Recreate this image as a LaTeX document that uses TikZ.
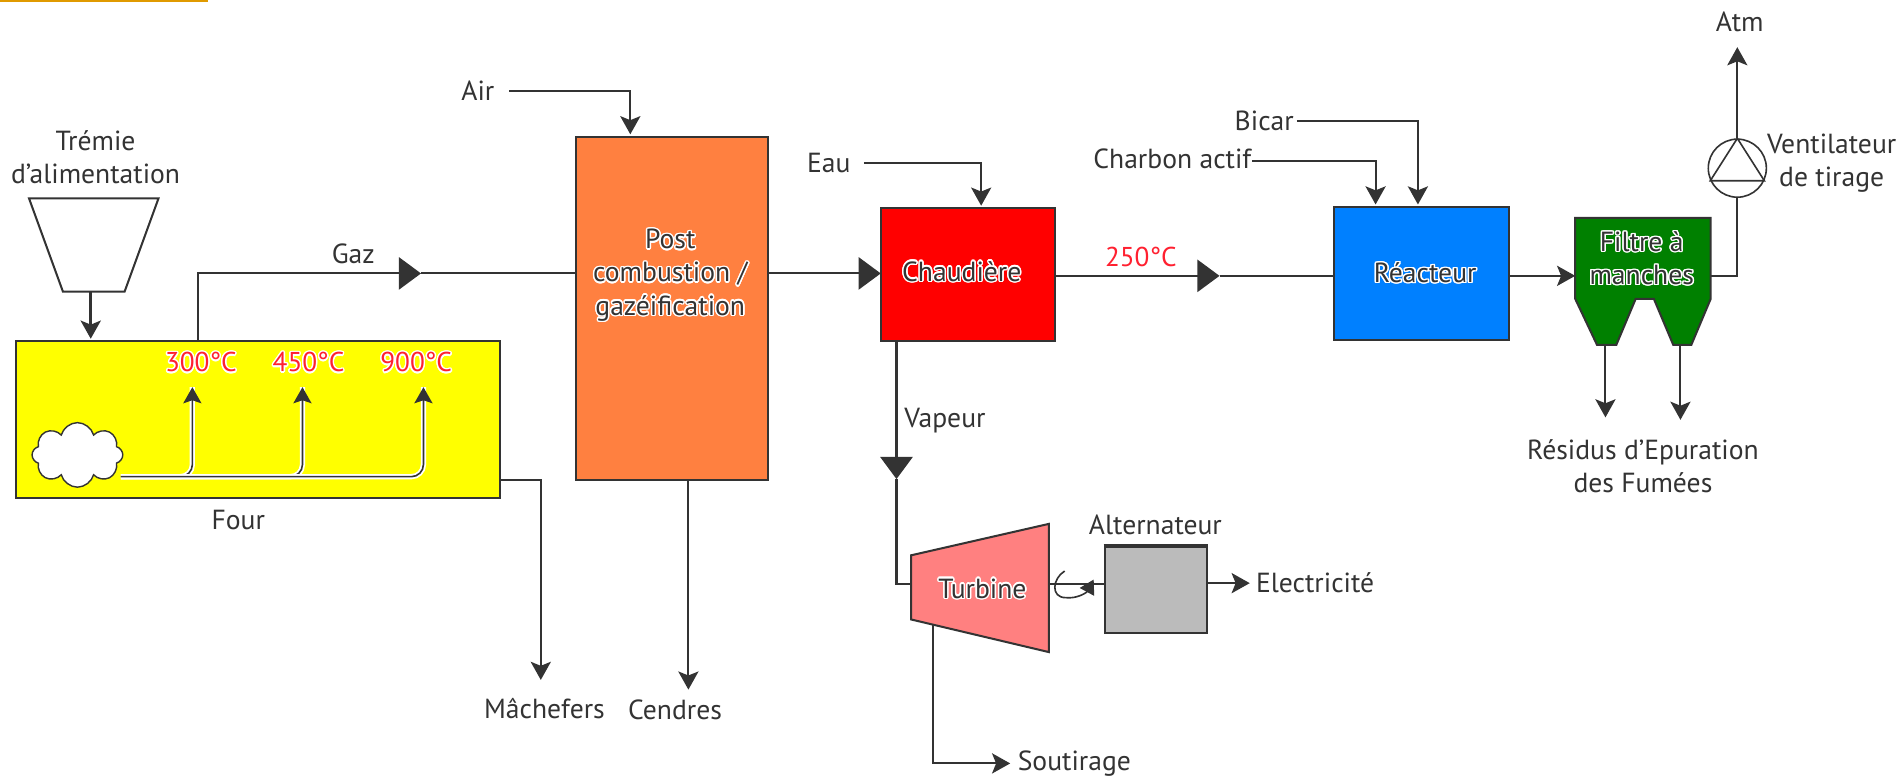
\documentclass[tikz,border=0pt]{standalone}
\usepackage{xcolor}
\usepackage{fontspec}
\usepackage{contour}
\setmainfont{PT Sans}
\usetikzlibrary{arrows.meta, positioning, calc, shapes.symbols}
\definecolor{cvline}{HTML}{333333}
\definecolor{cvfour}{HTML}{FFFF00}
\definecolor{cvpost}{HTML}{FF8040}
\definecolor{cvchaud}{HTML}{FF0000}
\definecolor{cvreac}{HTML}{0080FF}
\definecolor{cvfiltre}{HTML}{008000}
\definecolor{cvturb}{HTML}{FF8080}
\definecolor{cvalt}{HTML}{BBBBBB}
\definecolor{cvtemp}{HTML}{FF2030}
\definecolor{cvbar}{HTML}{E09A00}
\contourlength{0.7pt}
\newcommand{\halo}[1]{\contour{white}{#1}}

\begin{document}
\begin{tikzpicture}[x=0.6pt, y=-0.6pt,
    unit/.style={rectangle, draw=cvline, line width=1pt, fill=#1, inner sep=0pt},
    lbl/.style={font=\fontsize{13.7}{16.4}\selectfont, text=cvline, align=center, inner sep=1pt},
    temp/.style={font=\fontsize{13.5}{14}\selectfont, text=cvtemp, inner sep=1pt},
    conn/.style={line width=1pt, color=cvline},
    arrow/.style={-{Stealth[length=9pt, width=10pt, inset=2pt]}, line width=1pt, color=cvline},
    bigarrow/.style={-{Triangle[length=11pt, width=16pt]}, line width=1pt, color=cvline},
    flame/.style={-{Stealth[length=8pt, width=9pt, inset=1.5pt]}, line width=0.8pt, color=cvline,
                  rounded corners=6pt, preaction={draw=white, line width=2.6pt, -}}
]
\useasboundingbox (0,0) rectangle (1568,641);
\fill[cvbar] (0,0) rectangle (172,2);

% process units
\node[unit=cvfour, minimum width=240pt, minimum height=78pt] (four) at (213,347) {};
\node[unit=cvpost, minimum width=95.4pt, minimum height=170.4pt] (post) at (555.5,255) {};
\node[unit=cvchaud, minimum width=86.4pt, minimum height=66pt] (chaud) at (800,227) {};
\node[unit=cvreac, minimum width=86.4pt, minimum height=66pt] (reac) at (1175,226) {};
\node[unit=cvalt, minimum width=51pt, minimum height=42.6pt] (alt) at (955.5,487.5) {};
\draw[cvline, line width=1.6pt] (alt.north west) -- (alt.north east);

% hopper, turbine and filter outlines
\draw[conn] (24,164) -- (131,164) -- (103,241) -- (52,241) -- cycle;
\draw[conn, fill=cvturb] (753,459) -- (867,433) -- (867,539) -- (753,512) -- cycle;
\draw[conn, fill=cvfiltre] (1302,180) -- (1414,180) -- (1414,247) -- (1398,285) -- (1383,285)
    -- (1367,247) -- (1352,247) -- (1336,285) -- (1320,285) -- (1302,247) -- cycle;
\node[lbl] (posttxt) at (554,228) {\halo{Post}\\\halo{combustion /}\\\halo{gazéification}};
\node[lbl] (chaudtxt) at (795,225) {\halo{Chaudière}};
\node[lbl] (reactxt) at (1178,226) {\halo{Réacteur}};
\node[lbl] (turb) at (812,487) {\halo{Turbine}};
\node[lbl] (filtre) at (1357,214) {\halo{Filtre à}\\\halo{manches}};
\node[cloud, cloud puffs=8, draw=cvline, line width=0.7pt, fill=white, minimum width=45pt, minimum height=32pt, inner sep=0pt] (feu) at (64,376) {};
\node[circle, draw=cvline, line width=0.8pt, minimum size=28.8pt, inner sep=0pt] (fan) at (1436,139) {};
\draw[conn, line width=0.8pt] (fan.north) -- (fan.-25) -- (fan.205) -- cycle;

% labels
\node[lbl] (tremie) at (79,130) {Trémie\\d'alimentation};
\node[lbl] (gaz) at (292,210) {Gaz};
\node[lbl] (lfour) at (197,430) {Four};
\node[lbl] (air) at (395,75) {Air};
\node[lbl] (eau) at (685,135) {Eau};
\node[lbl] (bicar) at (1045,100) {Bicar};
\node[lbl] (charbon) at (969,131) {Charbon actif};
\node[lbl] (atm) at (1438,18) {Atm};
\node[lbl] (vent) at (1514,135) {Ventilateur\\de tirage};
\node[lbl] (vapeur) at (781,348) {Vapeur};
\node[lbl] (alttxt) at (955,434) {Alternateur};
\node[lbl] (elec) at (1087,482) {Electricité};
\node[lbl] (sout) at (888,631) {Soutirage};
\node[lbl] (mach) at (450,586) {Mâchefers};
\node[lbl] (cendres) at (558,587) {Cendres};
\node[lbl] (residus) at (1358,385) {Résidus d'Epuration\\des Fumées};
\node[temp] (t300) at (166,300) {\halo{300°C}};
\node[temp] (t450) at (255,300) {\halo{450°C}};
\node[temp] (t900) at (344,300) {\halo{900°C}};
\node[temp] (t250) at (943,212) {250°C};

% free ends
\coordinate (hopout) at (75,241);
\coordinate (fourin) at (75,280);
\coordinate (gazout) at (164,282);
\coordinate (gazmark) at (348,226);
\coordinate (feed) at (100,394);
\coordinate (top300) at (159,320);
\coordinate (top450) at (250,320);
\coordinate (top900) at (350,320);
\coordinate (fourout) at (413,397);
\coordinate (machin) at (447,562);
\coordinate (airout) at (421,75);
\coordinate (airin) at (521,111);
\coordinate (cendout) at (569,397);
\coordinate (cendin) at (569,570);
\coordinate (postout) at (635,226);
\coordinate (chaudin) at (728,226);
\coordinate (eauout) at (714,135);
\coordinate (eauin) at (811,170);
\coordinate (chaudout) at (872,228);
\coordinate (smark) at (1008,228);
\coordinate (reacin) at (1103,228);
\coordinate (vapout) at (741,282);
\coordinate (vapmark) at (741,396);
\coordinate (turbin) at (753,483);
\coordinate (turbout) at (867,483);
\coordinate (altin) at (913,483);
\coordinate (soutout) at (771,517);
\coordinate (soutin) at (835,631);
\coordinate (altout) at (998,482);
\coordinate (elecin) at (1033,482);
\coordinate (bicarout) at (1072,100);
\coordinate (charbout) at (1035,133);
\coordinate (charbin) at (1137,169);
\coordinate (bicarin) at (1172,169);
\coordinate (reacout) at (1247,228);
\coordinate (filtin) at (1302,228);
\coordinate (filtout) at (1414,228);
\coordinate (resout1) at (1327,285);
\coordinate (resin1) at (1327,345);
\coordinate (resout2) at (1389,285);
\coordinate (resin2) at (1389,347);
\coordinate (atmin) at (1436,39);

% connectors
\draw[arrow, line width=1.3pt] (hopout) -- (fourin);
\draw[bigarrow] (gazout) |- (gazmark);
\draw[conn] (gazmark) -- (gazmark -| post.west);
\draw[flame] (feed) -| (top300);
\draw[flame] (feed) -| (top450);
\draw[flame] (feed) -| (top900);
\draw[arrow] (fourout) -| (machin);
\draw[arrow] (airout) -| (airin);
\draw[arrow] (cendout) -- (cendin);
\draw[bigarrow] (postout) -- (chaudin);
\draw[arrow] (eauout) -| (eauin);
\draw[bigarrow] (chaudout) -- (smark);
\draw[conn] (smark) -- (reacin);
\draw[bigarrow] (vapout) -- (vapmark);
\draw[conn] (vapmark) |- (turbin);
\draw[conn] (turbout) -- (altin);
\draw[conn, line width=0.8pt, -{Triangle[length=7pt, width=8pt]}] (880,472) .. controls (870,478) and (868,494) .. (881,494)
    .. controls (890,495) and (898,490) .. (904,479);
\draw[arrow] (soutout) |- (soutin);
\draw[arrow] (altout) -- (elecin);
\draw[arrow] (charbout) -| (charbin);
\draw[arrow] (bicarout) -| (bicarin);
\draw[arrow] (reacout) -- (filtin);
\draw[conn] (filtout) -| (fan.south);
\draw[arrow] (fan.north) -- (atmin);
\draw[arrow] (resout1) -- (resin1);
\draw[arrow] (resout2) -- (resin2);
\end{tikzpicture}
\end{document}
